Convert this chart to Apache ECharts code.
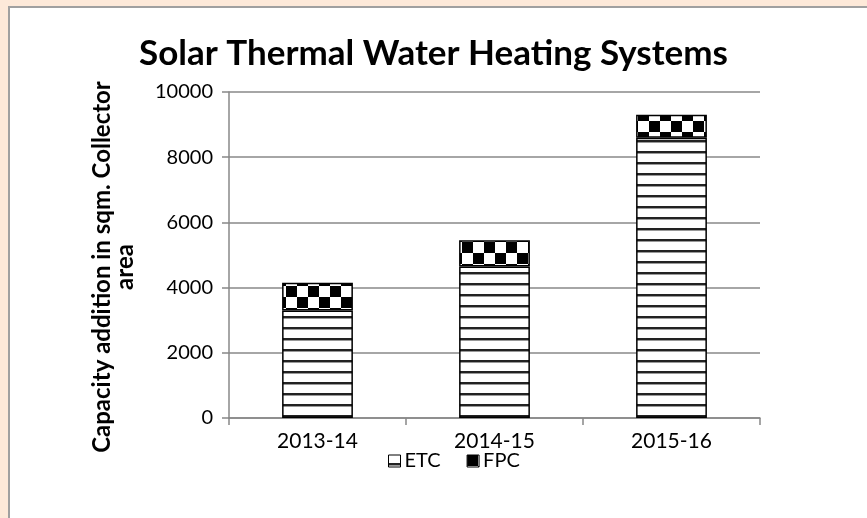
<!DOCTYPE html>
<html>
<head>
<meta charset="utf-8">
<script src="https://cdn.jsdelivr.net/npm/echarts@6/dist/echarts.min.js"></script>
<style>
  html, body { margin: 0; padding: 0; background: #fde9d9; }
  .panel { position: absolute; left: 8px; top: 6px; width: 900px; height: 600px; background: #fff; border: 2px solid #a0a0a0; }
  #main { position: absolute; left: 0; top: 0; width: 867px; height: 518px; }
</style>
</head>
<body>
<div class="panel"></div>
<div id="main"></div>
<script>
// data
const years = ['2013-14', '2014-15', '2015-16']
const etc = [3300, 4650, 8600]
const fpc = [850, 800, 700]
const yTicks = [0, 2000, 4000, 6000, 8000, 10000]

// hatching patterns
function stripes () {
  const c = document.createElement('canvas')
  c.width = 8
  c.height = 11
  const g = c.getContext('2d')
  g.fillStyle = '#fff'
  g.fillRect(0, 0, 8, 11)
  g.fillStyle = '#222'
  g.fillRect(0, 8, 8, 2)
  g.fillStyle = '#999'
  g.fillRect(0, 10, 8, 1)
  return c
}
function checker () {
  const c = document.createElement('canvas')
  c.width = 22
  c.height = 22
  const g = c.getContext('2d')
  g.fillStyle = '#fff'
  g.fillRect(0, 0, 22, 22)
  g.fillStyle = '#000'
  g.fillRect(0, 0, 11, 11)
  g.fillRect(11, 11, 11, 11)
  return c
}

const font = 'Lato, "Open Sans", sans-serif'
const chart = echarts.init(document.getElementById('main'))
chart.setOption({
  animation: false,
  textStyle: { fontFamily: font },
  title: {
    text: 'Solar Thermal Water Heating Systems',
    left: 'center',
    top: 31,
    textStyle: { fontSize: 35, fontWeight: 'bold', color: '#000', fontFamily: font }
  },
  legend: {
    bottom: 42,
    left: 383,
    icon: 'rect',
    itemWidth: 12,
    itemHeight: 12,
    itemGap: 26,
    data: ['ETC', 'FPC'],
    itemStyle: { borderColor: '#000', borderWidth: 1 },
    textStyle: { fontSize: 20, color: '#000', padding: [0, 0, 0, -1] }
  },
  grid: { left: 229, right: 107, top: 92, bottom: 100 },
  xAxis: {
    type: 'category',
    data: years,
    axisLine: { lineStyle: { color: '#888', width: 1.5 } },
    axisTick: { show: true, length: 7, lineStyle: { color: '#888', width: 1.5 } },
    axisLabel: { fontSize: 21, color: '#000', margin: 13 }
  },
  yAxis: {
    type: 'value',
    min: yTicks[0],
    max: yTicks[yTicks.length - 1],
    interval: 2000,
    name: 'Capacity addition in sqm. Collector\narea',
    nameLocation: 'middle',
    nameGap: 92,
    nameTextStyle: { fontSize: 24, fontWeight: 'bold', color: '#000', lineHeight: 23, padding: [0, 24, 0, 0] },
    axisLine: { show: true, lineStyle: { color: '#888', width: 1.5 } },
    axisTick: { show: true, length: 7, lineStyle: { color: '#888', width: 1.5 } },
    splitLine: { lineStyle: { color: '#888', width: 1.5 } },
    axisLabel: { fontSize: 20, color: '#000', margin: 16, formatter: v => String(v) }
  },
  series: [
    {
      name: 'ETC',
      type: 'bar',
      stack: 'total',
      barWidth: '40%',
      data: etc,
      itemStyle: { color: { image: stripes(), repeat: 'repeat' }, borderColor: '#000', borderWidth: 1.5 }
    },
    {
      name: 'FPC',
      type: 'bar',
      stack: 'total',
      barWidth: '40%',
      data: fpc,
      itemStyle: { color: { image: checker(), repeat: 'repeat' }, borderColor: '#000', borderWidth: 1.5 }
    }
  ]
})
</script>
</body>
</html>
